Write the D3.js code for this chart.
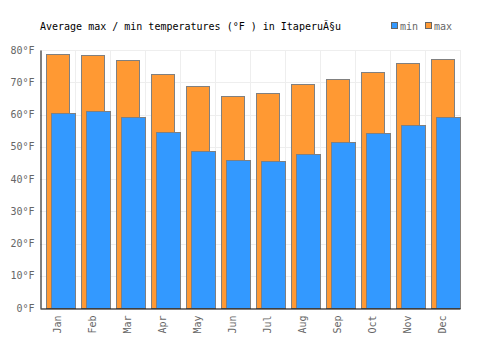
<!DOCTYPE html>
<html>
<head>
<script src="https://d3js.org/d3.v7.min.js"></script>
<style>
  body { margin: 0; background: #fff; }
</style>
</head>
<body>
<svg class="target" height="350" width="500"></svg>
<script>

// monthly averages
months = ['Jan','Feb','Mar','Apr','May','Jun','Jul','Aug','Sep','Oct','Nov','Dec']
maxTemps = [78.7, 78.4, 76.8, 72.5, 68.7, 65.6, 66.6, 69.4, 70.9, 73.1, 75.9, 77.1]
minTemps = [60.5, 61.1, 59.1, 54.5, 48.6, 45.8, 45.5, 47.7, 51.4, 54.2, 56.6, 59.1]
yTicks = [0, 10, 20, 30, 40, 50, 60, 70, 80]

margin = ({ top: 50, right: 40, bottom: 42, left: 40 })
width = 500
height = 350

font = '"DejaVu Sans Mono", "Liberation Mono", monospace'

xScale = d3.scaleBand(months, [margin.left, width - margin.right])
yScale = d3.scaleLinear([0, 80], [height - margin.bottom, margin.top])

const svg = d3.select('.target')
    .style('font-family', font)

// grid
svg.append('g')
    .selectAll('line')
    .data(yTicks)
    .join('line')
      .attr('x1', margin.left)
      .attr('x2', width - margin.right)
      .attr('y1', d => Math.round(yScale(d)) + 0.5)
      .attr('y2', d => Math.round(yScale(d)) + 0.5)
      .attr('stroke', '#eeeeee')

svg.append('g')
    .selectAll('line')
    .data(months)
    .join('line')
      .attr('x1', d => Math.round(xScale(d) + xScale.bandwidth()) + 0.5)
      .attr('x2', d => Math.round(xScale(d) + xScale.bandwidth()) + 0.5)
      .attr('y1', margin.top)
      .attr('y2', height - margin.bottom)
      .attr('stroke', '#eeeeee')

// bars: max behind, min in front, shifted right
bw = xScale.bandwidth()

svg.append('g')
    .selectAll('rect')
    .data(maxTemps)
    .join('rect')
      .attr('x', (d, i) => Math.round(xScale(months[i]) + bw * 0.17) + 0.5)
      .attr('width', Math.round(bw * 0.66))
      .attr('y', d => Math.round(yScale(d)) + 0.5)
      .attr('height', d => Math.round(yScale(0) - yScale(d)))
      .attr('fill', '#ff9933')
      .attr('stroke', '#808080')

svg.append('g')
    .selectAll('rect')
    .data(minTemps)
    .join('rect')
      .attr('x', (d, i) => Math.round(xScale(months[i]) + bw * 0.31) + 0.5)
      .attr('width', Math.round(bw * 0.69))
      .attr('y', d => Math.round(yScale(d)) + 0.5)
      .attr('height', d => Math.round(yScale(0) - yScale(d)))
      .attr('fill', '#3399ff')
      .attr('stroke', '#808080')

// axes
yAxis = d3.axisLeft(yScale)
    .tickValues(yTicks)
    .tickSize(0)
    .tickPadding(6)
    .tickFormat(d => d + '°F')

xAxis = d3.axisBottom(xScale)
    .tickSize(0)

svg.append('g')
    .attr('transform', `translate(${margin.left + 0.5},0)`)
    .call(yAxis)
    .call(g => g.select('.domain').attr('stroke', '#000'))
    .call(g => g.selectAll('text')
      .attr('fill', '#666')
      .style('font-family', font)
      .style('font-size', '10px'))

svg.append('g')
    .attr('transform', `translate(0,${height - margin.bottom + 0.5})`)
    .call(xAxis)
    .call(g => g.select('.domain').attr('stroke', '#000'))
    .call(g => g.selectAll('text')
      .attr('fill', '#666')
      .style('font-family', font)
      .style('font-size', '10px')
      .attr('text-anchor', 'end')
      .attr('transform', 'rotate(-90)')
      .attr('x', -7)
      .attr('y', 0)
      .attr('dy', '0.35em'))

// title
svg.append('text')
    .attr('x', margin.left)
    .attr('y', 30)
    .style('font-size', '10px')
    .attr('fill', '#000')
    .text('Average max / min temperatures (°F ) in ItaperuÃ§u')

// legend
legend = [{ name: 'min', color: '#3399ff' }, { name: 'max', color: '#ff9933' }]

svg.append('g')
    .selectAll('g')
    .data(legend)
    .join('g')
      .attr('transform', (d, i) => `translate(${391 + i * 34},0)`)
    .call(g => g.append('rect')
      .attr('x', 0.5)
      .attr('y', 22.5)
      .attr('width', 6)
      .attr('height', 6)
      .attr('fill', d => d.color)
      .attr('stroke', '#666'))
    .call(g => g.append('text')
      .attr('x', 9)
      .attr('y', 30)
      .style('font-size', '10px')
      .attr('fill', '#666')
      .text(d => d.name))

</script>
</body>
</html>
